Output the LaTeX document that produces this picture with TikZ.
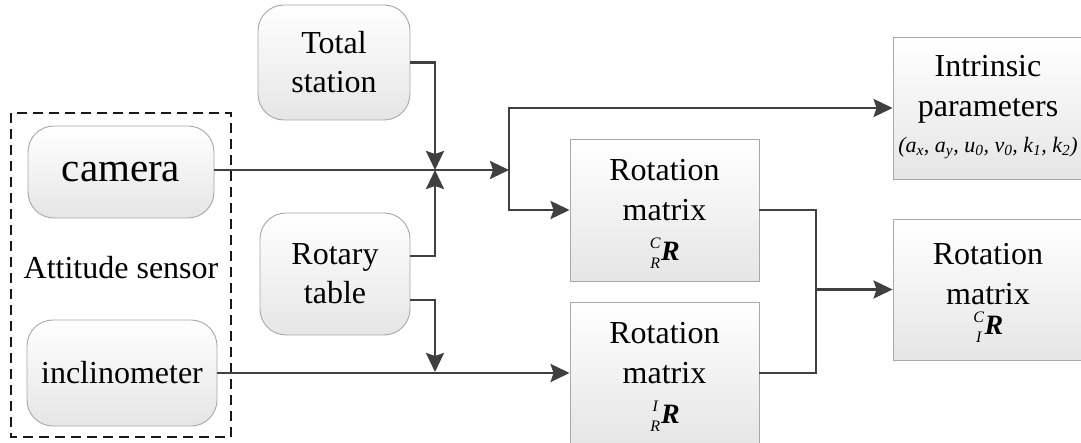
\documentclass[tikz,border=0pt]{standalone}
\usepackage{fontspec}
\setmainfont{Liberation Serif}
\usetikzlibrary{arrows.meta,calc,positioning}
\definecolor{linec}{HTML}{404040}
\definecolor{boxborder}{HTML}{A8A8A8}
\newcommand{\lsub}[3]{{\fontsize{28}{28}\selectfont\makebox[0pt][l]{\raisebox{12pt}{\makebox[12pt][c]{\fontsize{16}{16}\selectfont\itshape #1}}}\raisebox{-8pt}{\makebox[12pt][c]{\fontsize{16}{16}\selectfont\itshape #2}}\textbf{\textit{#3}}}}
\begin{document}
\begin{tikzpicture}[x=1pt,y=-1pt,
  rbox/.style={draw=boxborder,line width=0.9pt,rounded corners=26pt,top color=white,bottom color=black!10,
    align=center,inner sep=0pt,font=\fontsize{32}{39}\selectfont},
  sbox/.style={draw=boxborder,line width=0.9pt,top color=white,bottom color=black!10,
    align=center,inner sep=0pt,font=\fontsize{32}{40}\selectfont},
  btxt/.style={font=\fontsize{32}{40}\selectfont,align=center,anchor=base,inner sep=0pt},
  conn/.style={draw=linec,line width=2.6pt},
  arr/.style={conn,-{Stealth[length=19pt,width=18pt,inset=3pt]}}]
\useasboundingbox (0,0) rectangle (1081,443);
\clip (0,0) rectangle (1081,443);
\fill[white] (0,0) rectangle (1081,443);
% dashed group
\draw[black!90,line width=2pt,dash pattern=on 10pt off 6pt] (11,113) rectangle (231,437);
% nodes
\node[rbox,minimum width=186pt,minimum height=92pt,font=\fontsize{41}{48}\selectfont] (camera) at (121,172) {camera};
\node[rbox,minimum width=190pt,minimum height=106pt] (incl) at (122,373) {inclinometer};
\node[font=\fontsize{32}{40}\selectfont] (att) at (121,268) {Attitude sensor};
\node[rbox,minimum width=152pt,minimum height=115pt] (total) at (334,62.5) {Total\\station};
\node[rbox,minimum width=150pt,minimum height=122pt] (rotary) at (335,274) {Rotary\\table};
\node[sbox,minimum width=189pt,minimum height=142pt] (rm1) at (664.5,210) {};
\node[sbox,minimum width=189pt,minimum height=142pt] (rm2) at (664.5,373) {};
\node[sbox,minimum width=190pt,minimum height=142pt] (intr) at (988,108) {};
\node[sbox,minimum width=190pt,minimum height=141pt] (rm3) at (988,289.5) {};
% texts inside the square boxes
\node[btxt] (rm1t) at ($(rm1.north)+(0,82)$) {Rotation\\matrix};
\node[anchor=base] (rm1s) at ($(rm1.north)+(0,122)$) {\lsub{C}{R}{R}};
\node[btxt] (rm2t) at ($(rm2.north)+(0,82)$) {Rotation\\matrix};
\node[anchor=base] (rm2s) at ($(rm2.north)+(0,122)$) {\lsub{I}{R}{R}};
\node[btxt] (intrt) at ($(intr.north)+(0,80)$) {Intrinsic\\parameters};
\node[anchor=base,inner sep=0pt,font=\fontsize{22}{22}\selectfont\itshape] (intrp) at ($(intr.north)+(0,116)$) {(a\textsubscript{x}, a\textsubscript{y}, u\textsubscript{0}, v\textsubscript{0}, k\textsubscript{1}, k\textsubscript{2})};
\node[btxt] (rm3t) at ($(rm3.north)+(0,86)$) {Rotation\\matrix};
\node[anchor=base] (rm3s) at ($(rm3.north)+(0,116)$) {\lsub{C}{I}{R}};
% junctions
\coordinate (cross) at (435,170);
\coordinate (cross2) at (435,372);
\coordinate (j1) at (509,170);
\coordinate (m) at (816,289.5);
% connectors
\draw[arr] (camera.east |- cross) -- (j1);
\draw[arr] (j1) |- (intr.west);
\draw[arr] (j1) |- (rm1.west);
\draw[arr] (total.east) -| (cross);
\draw[arr] ($(rotary.east)+(0,-18)$) -| (cross);
\draw[arr] ($(rotary.east)+(0,26)$) -| (cross2);
\draw[arr] (incl.east) -- (rm2.west);
\draw[conn] (rm1.east) -| (m);
\draw[conn] (rm2.east) -| (m);
\draw[arr] (m) -- (rm3.west);
\end{tikzpicture}
\end{document}
